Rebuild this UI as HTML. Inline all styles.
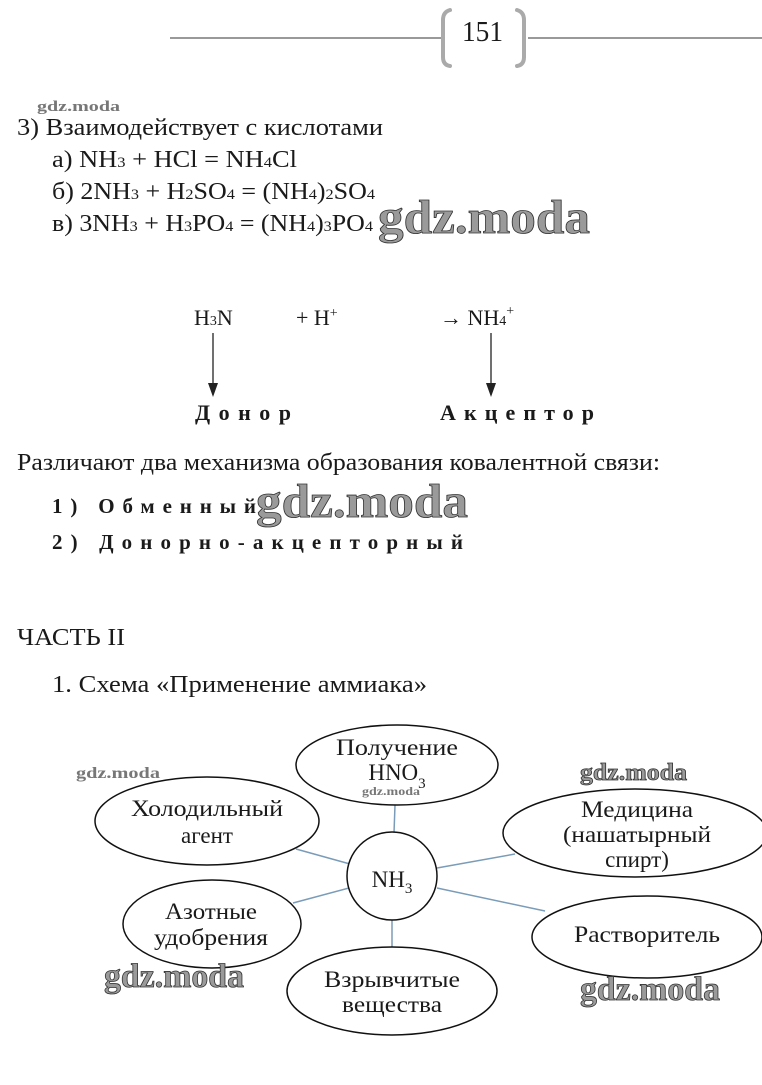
<!DOCTYPE html>
<html><head><meta charset="utf-8">
<style>html,body{margin:0;padding:0;background:#fff}svg{display:block}
text{font-family:"Liberation Serif",serif;fill:#1a1a1a}
.wm{font-weight:bold;fill:#9a9a9a;stroke:#333;stroke-width:0.8}
.wms{font-weight:bold;fill:#777}
</style></head><body>
<svg width="762" height="1085" viewBox="0 0 762 1085" xmlns="http://www.w3.org/2000/svg">
<g stroke="#999" stroke-width="2" fill="none">
<line x1="170" y1="38" x2="441" y2="38"/>
<line x1="528" y1="38" x2="762" y2="38"/>
</g>
<g stroke="#aaa" stroke-width="4" fill="none" stroke-linecap="round">
<path d="M450 10 Q443 12 443 20 L443 57 Q443 65 450 66"/>
<path d="M517 10 Q524 12 524 20 L524 57 Q524 65 517 66"/>
</g>
<text x="462" y="41" font-size="28" textLength="41" lengthAdjust="spacingAndGlyphs">151</text>

<text class="wms" x="37" y="111" font-size="15" textLength="83" lengthAdjust="spacingAndGlyphs">gdz.moda</text>
<text x="17" y="135" font-size="24" textLength="366" lengthAdjust="spacingAndGlyphs">3)  Взаимодействует с кислотами</text>
<text x="52" y="167" font-size="24" textLength="245" lengthAdjust="spacingAndGlyphs">а) NH<tspan font-size="15">3</tspan> + HCl = NH<tspan font-size="15">4</tspan>Cl</text>
<text x="52" y="199" font-size="24" textLength="323" lengthAdjust="spacingAndGlyphs">б) 2NH<tspan font-size="15">3</tspan> + H<tspan font-size="15">2</tspan>SO<tspan font-size="15">4</tspan> = (NH<tspan font-size="15">4</tspan>)<tspan font-size="15">2</tspan>SO<tspan font-size="15">4</tspan></text>
<text x="52" y="231" font-size="24" textLength="321" lengthAdjust="spacingAndGlyphs">в) 3NH<tspan font-size="15">3</tspan> + H<tspan font-size="15">3</tspan>PO<tspan font-size="15">4</tspan> = (NH<tspan font-size="15">4</tspan>)<tspan font-size="15">3</tspan>PO<tspan font-size="15">4</tspan></text>
<text class="wm" x="378" y="233" font-size="48" textLength="212" lengthAdjust="spacingAndGlyphs">gdz.moda</text>

<text x="194" y="325" font-size="22">H<tspan font-size="14">3</tspan>N</text>
<text x="296" y="325" font-size="22">+ H<tspan font-size="14" dy="-8">+</tspan></text>
<text x="440" y="325" font-size="22">→ NH<tspan font-size="14">4</tspan><tspan font-size="14" dy="-10">+</tspan></text>
<g stroke="#222" stroke-width="1.3"><line x1="213" y1="333" x2="213" y2="385"/><line x1="491" y1="333" x2="491" y2="385"/></g>
<polygon points="208,383 218,383 213,397" fill="#222"/>
<polygon points="486,383 496,383 491,397" fill="#222"/>
<text x="195" y="420" font-size="22" font-weight="bold" textLength="96">Донор</text>
<text x="440" y="420" font-size="22" font-weight="bold" textLength="154">Акцептор</text>

<text x="17" y="470" font-size="24" textLength="643" lengthAdjust="spacingAndGlyphs">Различают два механизма образования ковалентной связи:</text>
<text x="52" y="513" font-size="21" font-weight="bold" textLength="204">1) Обменный</text>
<text class="wm" x="256" y="517" font-size="48" textLength="212" lengthAdjust="spacingAndGlyphs">gdz.moda</text>
<text x="52" y="549" font-size="21" font-weight="bold" textLength="411">2) Донорно-акцепторный</text>

<text x="17" y="645" font-size="24" textLength="108" lengthAdjust="spacingAndGlyphs">ЧАСТЬ II</text>
<text x="52" y="692" font-size="24" textLength="375" lengthAdjust="spacingAndGlyphs">1.   Схема «Применение аммиака»</text>

<g stroke="#7a9cb8" stroke-width="1.5">
<line x1="395" y1="805" x2="394" y2="833"/>
<line x1="296" y1="849" x2="350" y2="864"/>
<line x1="515" y1="854" x2="437" y2="868"/>
<line x1="293" y1="903" x2="349" y2="888"/>
<line x1="437" y1="888" x2="545" y2="911"/>
<line x1="392" y1="920" x2="392" y2="947"/>
</g>
<g fill="#fff" stroke="#111" stroke-width="1.5">
<ellipse cx="397" cy="765" rx="101" ry="40"/>
<ellipse cx="207" cy="821" rx="112" ry="44"/>
<ellipse cx="635" cy="833" rx="132" ry="44"/>
<ellipse cx="212" cy="924" rx="89" ry="44"/>
<ellipse cx="647" cy="937" rx="115" ry="41"/>
<ellipse cx="392" cy="991" rx="105" ry="44"/>
<ellipse cx="392" cy="876" rx="45" ry="44"/>
</g>
<g font-size="23" text-anchor="middle">
<text x="397" y="755" textLength="122" lengthAdjust="spacingAndGlyphs">Получение</text>
<text x="397" y="780">HNO<tspan font-size="15" dy="8">3</tspan></text>
<text x="207" y="816" textLength="152" lengthAdjust="spacingAndGlyphs">Холодильный</text>
<text x="207" y="843">агент</text>
<text x="637" y="817" textLength="112" lengthAdjust="spacingAndGlyphs">Медицина</text>
<text x="637" y="842" textLength="148" lengthAdjust="spacingAndGlyphs">(нашатырный</text>
<text x="637" y="867">спирт)</text>
<text x="392" y="887">NH<tspan font-size="15" dy="6">3</tspan></text>
<text x="211" y="919" textLength="92" lengthAdjust="spacingAndGlyphs">Азотные</text>
<text x="211" y="945" textLength="114" lengthAdjust="spacingAndGlyphs">удобрения</text>
<text x="647" y="942" textLength="146" lengthAdjust="spacingAndGlyphs">Растворитель</text>
<text x="392" y="987" textLength="136" lengthAdjust="spacingAndGlyphs">Взрывчитые</text>
<text x="392" y="1012" textLength="100" lengthAdjust="spacingAndGlyphs">вещества</text>
</g>
<text class="wms" x="76" y="778" font-size="16" textLength="84" lengthAdjust="spacingAndGlyphs">gdz.moda</text>
<text class="wms" x="362" y="795" font-size="12" textLength="58" lengthAdjust="spacingAndGlyphs">gdz.moda</text>
<text class="wm" x="580" y="780" font-size="24" textLength="107" lengthAdjust="spacingAndGlyphs">gdz.moda</text>
<text class="wm" x="104" y="987" font-size="34" textLength="140" lengthAdjust="spacingAndGlyphs">gdz.moda</text>
<text class="wm" x="580" y="1000" font-size="34" textLength="140" lengthAdjust="spacingAndGlyphs">gdz.moda</text>
</svg>
</body></html>
